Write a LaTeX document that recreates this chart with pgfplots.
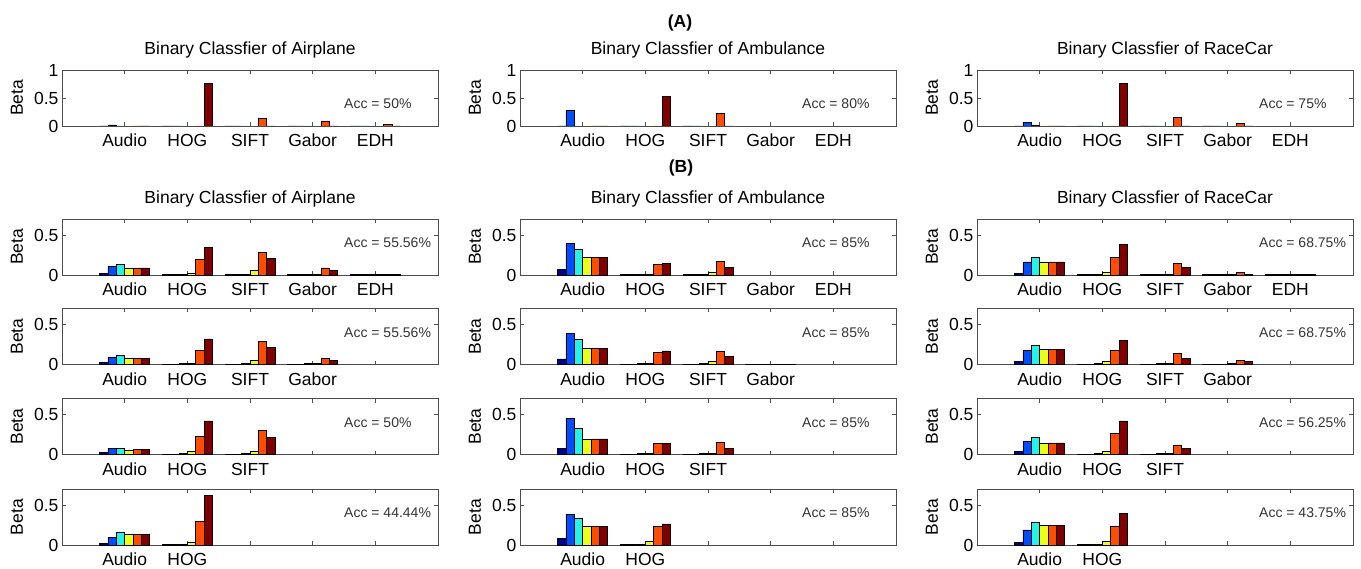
\documentclass[border=0pt]{standalone}
\usepackage{pgfplots}
\pgfplotsset{compat=1.18}
\usepackage{pgfplotstable}
\usepackage{fontspec}
\setmainfont{Liberation Sans}
\newcommand{\fs}{\fontsize{17.5}{20}\selectfont}
\newcommand{\fa}{\fontsize{14}{16}\selectfont}
\definecolor{c1}{rgb}{0,0,0.56}
\definecolor{c2}{rgb}{0,0.3,1}
\definecolor{c3}{rgb}{0.15,0.95,0.9}
\definecolor{c4}{rgb}{0.92,1,0.1}
\definecolor{c5}{rgb}{1,0.3,0}
\definecolor{c6}{rgb}{0.5,0,0}

\pgfplotstableread{
x s1 s2 s3 s4 s5 s6
1 0 0.02 0 0 0 0
2 0 0 0 0 0 0.76
3 0 0 0 0 0.13 0
4 0 0 0 0 0.09 0
5 0 0 0 0 0.03 0
}\tAair
\pgfplotstableread{
x s1 s2 s3 s4 s5 s6
1 0 0.28 0 0 0 0
2 0 0 0 0 0 0.53
3 0 0 0 0 0.23 0
}\tAamb
\pgfplotstableread{
x s1 s2 s3 s4 s5 s6
1 0 0.07 0.02 0 0 0
2 0 0 0 0 0 0.76
3 0 0 0 0 0.15 0
4 0 0 0 0 0.05 0
}\tArac
\pgfplotstableread{
x s1 s2 s3 s4 s5 s6
1 0.02 0.105 0.135 0.09 0.09 0.09
2 0.005 0.005 0.01 0.02 0.19 0.34
3 0.005 0.005 0.01 0.06 0.28 0.21
4 0.005 0.005 0.01 0.015 0.09 0.06
5 0.005 0.005 0.005 0.005 0.005 0.005
}\tBaira
\pgfplotstableread{
x s1 s2 s3 s4 s5 s6
1 0.03 0.095 0.11 0.08 0.08 0.08
2 0.005 0.005 0.01 0.01 0.175 0.32
3 0.005 0.005 0.01 0.05 0.285 0.21
4 0.005 0.005 0.01 0.02 0.08 0.05
}\tBairb
\pgfplotstableread{
x s1 s2 s3 s4 s5 s6
1 0.03 0.08 0.08 0.055 0.06 0.06
2 0.005 0.005 0.01 0.04 0.23 0.42
3 0.005 0.005 0.01 0.04 0.30 0.215
}\tBairc
\pgfplotstableread{
x s1 s2 s3 s4 s5 s6
1 0.02 0.10 0.165 0.13 0.13 0.13
2 0.005 0.005 0.01 0.035 0.30 0.62
}\tBaird
\pgfplotstableread{
x s1 s2 s3 s4 s5 s6
1 0.07 0.395 0.325 0.22 0.22 0.22
2 0.005 0.005 0.01 0.01 0.135 0.147
3 0.005 0.005 0.01 0.04 0.175 0.10
}\tBamba
\pgfplotstableread{
x s1 s2 s3 s4 s5 s6
1 0.07 0.385 0.31 0.20 0.20 0.20
2 0.005 0.005 0.01 0.01 0.15 0.17
3 0.005 0.005 0.01 0.04 0.17 0.10
4 0.003 0.003 0.003 0.003 0.003 0.003
}\tBambb
\pgfplotstableread{
x s1 s2 s3 s4 s5 s6
1 0.08 0.45 0.325 0.195 0.195 0.195
2 0.005 0.005 0.01 0.015 0.135 0.135
3 0.005 0.005 0.01 0.02 0.15 0.075
}\tBambc
\pgfplotstableread{
x s1 s2 s3 s4 s5 s6
1 0.08 0.385 0.34 0.23 0.23 0.23
2 0.005 0.005 0.01 0.05 0.23 0.265
}\tBambd
\pgfplotstableread{
x s1 s2 s3 s4 s5 s6
1 0.02 0.165 0.22 0.165 0.165 0.165
2 0.005 0.005 0.01 0.04 0.22 0.38
3 0.005 0.005 0.01 0.015 0.15 0.10
4 0.005 0.005 0.005 0.01 0.03 0.01
5 0.005 0.005 0.005 0.005 0.005 0.005
}\tBraca
\pgfplotstableread{
x s1 s2 s3 s4 s5 s6
1 0.035 0.175 0.235 0.19 0.19 0.19
2 0.005 0.005 0.01 0.04 0.175 0.305
3 0.005 0.005 0.01 0.015 0.135 0.08
4 0.005 0.005 0.005 0.01 0.05 0.035
}\tBracb
\pgfplotstableread{
x s1 s2 s3 s4 s5 s6
1 0.04 0.165 0.21 0.145 0.145 0.145
2 0.005 0.005 0.01 0.04 0.265 0.42
3 0.005 0.005 0.01 0.02 0.12 0.075
}\tBracc
\pgfplotstableread{
x s1 s2 s3 s4 s5 s6
1 0.03 0.19 0.29 0.245 0.245 0.245
2 0.005 0.005 0.01 0.05 0.23 0.395
}\tBracd

\pgfplotsset{
  panel/.style={
    scale only axis, width=376pt, height=56pt, anchor=north west,
    xmin=0, xmax=6, ymin=0, xtick={1,2,3,4,5},
    ybar, bar width=0.1333,
    tick align=inside, major tick length=4pt,
    axis line style={black!70}, every tick/.style={black!70, line width=0.6pt},
    /pgf/number format/assume math mode=true,
    tick label style={font=\fs},
    xticklabel style={anchor=base, yshift=-20.5pt},
    title style={at={(0.5,1)}, anchor=base, yshift=9.5pt, font=\fs},
    ylabel={Beta},
    ylabel style={at={(axis description cs:-0.1197,0.5)}, anchor=center, font=\fs},
    every axis plot/.append style={draw=black, line width=0.6pt},
  },
}
\tikzset{acc/.style={anchor=west, inner sep=0pt, font=\fa, text=black!80}}

\newcommand{\panel}[8]{%
\begin{axis}[panel, at={(#1pt,-#2pt)}, ymax=#3, ytick={#4}, xticklabels={#5}, title={#6}]
\addplot[fill=c1, bar shift=-0.3333] table[x=x,y=s1] {#8};
\addplot[fill=c2, bar shift=-0.2] table[x=x,y=s2] {#8};
\addplot[fill=c3, bar shift=-0.0667] table[x=x,y=s3] {#8};
\addplot[fill=c4, bar shift=0.0667] table[x=x,y=s4] {#8};
\addplot[fill=c5, bar shift=0.2] table[x=x,y=s5] {#8};
\addplot[fill=c6, bar shift=0.3333] table[x=x,y=s6] {#8};
\node[acc] at (axis cs:4.5,0.4) {Acc = #7\%};
\end{axis}}

\begin{document}
\begin{tikzpicture}
\useasboundingbox (0,0) rectangle (1361pt,-569pt);
\node[anchor=base, font=\fs\bfseries] at (680pt,-27.5pt) {(A)};
\node[anchor=base, font=\fs\bfseries] at (681pt,-172.5pt) {(B)};

\panel{62}{70}{1}{0,0.5,1}{Audio,HOG,SIFT,Gabor,EDH}{Binary Classfier of Airplane}{50}{\tAair}
\panel{520}{70}{1}{0,0.5,1}{Audio,HOG,SIFT,Gabor,EDH}{Binary Classfier of Ambulance}{80}{\tAamb}
\panel{977}{70}{1}{0,0.5,1}{Audio,HOG,SIFT,Gabor,EDH}{Binary Classfier of RaceCar}{75}{\tArac}

\panel{62}{219}{0.7}{0,0.5}{Audio,HOG,SIFT,Gabor,EDH}{Binary Classfier of Airplane}{55.56}{\tBaira}
\panel{520}{219}{0.7}{0,0.5}{Audio,HOG,SIFT,Gabor,EDH}{Binary Classfier of Ambulance}{85}{\tBamba}
\panel{977}{219}{0.7}{0,0.5}{Audio,HOG,SIFT,Gabor,EDH}{Binary Classfier of RaceCar}{68.75}{\tBraca}

\panel{62}{308.5}{0.7}{0,0.5}{Audio,HOG,SIFT,Gabor,{}}{}{55.56}{\tBairb}
\panel{520}{308.5}{0.7}{0,0.5}{Audio,HOG,SIFT,Gabor,{}}{}{85}{\tBambb}
\panel{977}{308.5}{0.7}{0,0.5}{Audio,HOG,SIFT,Gabor,{}}{}{68.75}{\tBracb}

\panel{62}{398.5}{0.7}{0,0.5}{Audio,HOG,SIFT,{},{}}{}{50}{\tBairc}
\panel{520}{398.5}{0.7}{0,0.5}{Audio,HOG,SIFT,{},{}}{}{85}{\tBambc}
\panel{977}{398.5}{0.7}{0,0.5}{Audio,HOG,SIFT,{},{}}{}{56.25}{\tBracc}

\panel{62}{489}{0.7}{0,0.5}{Audio,HOG,{},{},{}}{}{44.44}{\tBaird}
\panel{520}{489}{0.7}{0,0.5}{Audio,HOG,{},{},{}}{}{85}{\tBambd}
\panel{977}{489}{0.7}{0,0.5}{Audio,HOG,{},{},{}}{}{43.75}{\tBracd}
\end{tikzpicture}
\end{document}
